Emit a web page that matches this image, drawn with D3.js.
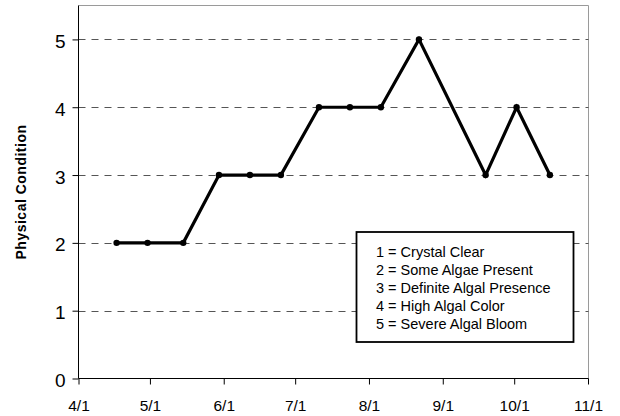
<!DOCTYPE html>
<html>
<head>
<meta charset="utf-8">
<script src="https://cdn.jsdelivr.net/npm/d3@7"></script>
<style>
  html, body { margin: 0; padding: 0; background: #fff; }
  svg { display: block; font-family: "Liberation Sans", Arial, Helvetica, sans-serif; }
</style>
</head>
<body>
<svg id="chart" width="620" height="416"></svg>
<script>
// ---- data ----
const dates = ["2005-04-17","2005-04-30","2005-05-15","2005-05-30","2005-06-12","2005-06-25",
               "2005-07-11","2005-07-24","2005-08-06","2005-08-22","2005-09-19","2005-10-02","2005-10-16"];
const values = [2, 2, 2, 3, 3, 3, 4, 4, 4, 5, 3, 4, 3];
const yTicks = [0, 1, 2, 3, 4, 5];
const xTickDates = ["2005-04-01","2005-05-01","2005-06-01","2005-07-01","2005-08-01","2005-09-01","2005-10-01","2005-11-01"];
const xTickLabels = ["4/1","5/1","6/1","7/1","8/1","9/1","10/1","11/1"];
const legendLines = ["1 = Crystal Clear","2 = Some Algae Present","3 = Definite Algal Presence","4 = High Algal Color","5 = Severe Algal Bloom"];
const yTitle = "Physical Condition";

// ---- layout ----
const parse = d3.utcParse("%Y-%m-%d");
const pL = 78.5, pR = 588.5, pT = 5.5, pB = 378.5;
const svg = d3.select("#chart");

const x = d3.scaleUtc()
  .domain([parse(xTickDates[0]), parse(xTickDates[xTickDates.length - 1])])
  .range([pL, pR - 0.5]);
const y = d3.scaleLinear().domain([0, 5.5]).range([pB, pT]);

const points = dates.map((d, i) => ({ date: parse(d), value: values[i] }));

// frame (top & right grey)
svg.append("path")
  .attr("d", `M${pL},${pT}H${pR}V${pB}`)
  .attr("fill", "none").attr("stroke", "#9a9a9a").attr("stroke-width", 1);

// gridlines
svg.append("g").selectAll("line")
  .data(yTicks.filter(v => v > 0))
  .join("line")
  .attr("x1", pL).attr("x2", pR)
  .attr("y1", d => Math.round(y(d)) + 0.5).attr("y2", d => Math.round(y(d)) + 0.5)
  .attr("stroke", "#555").attr("stroke-width", 1)
  .attr("stroke-dasharray", "7,6");

// y axis
const yAxis = d3.axisLeft(y).tickValues(yTicks).tickSize(6).tickPadding(7).tickFormat(d3.format("d"));
const gy = svg.append("g").attr("transform", `translate(${pL},0)`).call(yAxis);
gy.select(".domain").attr("d", `M0,${pT}V${pB}`).attr("stroke", "#000");
gy.selectAll(".tick line").attr("stroke", "#000");
gy.selectAll(".tick text")
  .attr("font-size", 19).attr("fill", "#000")
  .attr("font-family", "'Liberation Sans', Arial, sans-serif")
  .attr("dy", "0.42em");

// x axis
const labelMap = new Map(xTickDates.map((d, i) => [+parse(d), xTickLabels[i]]));
const xAxis = d3.axisBottom(x).tickValues(xTickDates.map(parse)).tickSize(6)
  .tickFormat(d => labelMap.get(+d));
const gx = svg.append("g").attr("transform", `translate(0,${pB})`).call(xAxis);
gx.select(".domain").attr("d", `M${pL},0H${pR}`).attr("stroke", "#000");
gx.selectAll(".tick line").attr("stroke", "#000");
gx.selectAll(".tick text")
  .attr("font-size", 15.5).attr("fill", "#000")
  .attr("font-family", "'Liberation Sans', Arial, sans-serif")
  .attr("y", 32.5).attr("dy", 0);

// y title
svg.append("text")
  .attr("transform", `translate(26,${(pT + pB) / 2}) rotate(-90)`)
  .attr("text-anchor", "middle")
  .attr("font-size", 14).attr("font-weight", "bold")
  .attr("letter-spacing", "0.5")
  .text(yTitle);

// line
const line = d3.line().x(d => x(d.date)).y(d => y(d.value));
svg.append("path").datum(points)
  .attr("d", line)
  .attr("fill", "none").attr("stroke", "#000")
  .attr("stroke-width", 3.2).attr("stroke-linejoin", "miter");

svg.append("g").selectAll("circle")
  .data(points).join("circle")
  .attr("cx", d => x(d.date)).attr("cy", d => y(d.value))
  .attr("r", 3.2).attr("fill", "#000");

// legend box
const lg = svg.append("g");
lg.append("rect")
  .attr("x", 356.5).attr("y", 232).attr("width", 217).attr("height", 110)
  .attr("fill", "#fff").attr("stroke", "#000").attr("stroke-width", 1.8);
lg.selectAll("text").data(legendLines).join("text")
  .attr("x", 376).attr("y", (d, i) => 256.5 + i * 18)
  .attr("font-size", 14.5).attr("fill", "#000")
  .text(d => d);
</script>
</body>
</html>
